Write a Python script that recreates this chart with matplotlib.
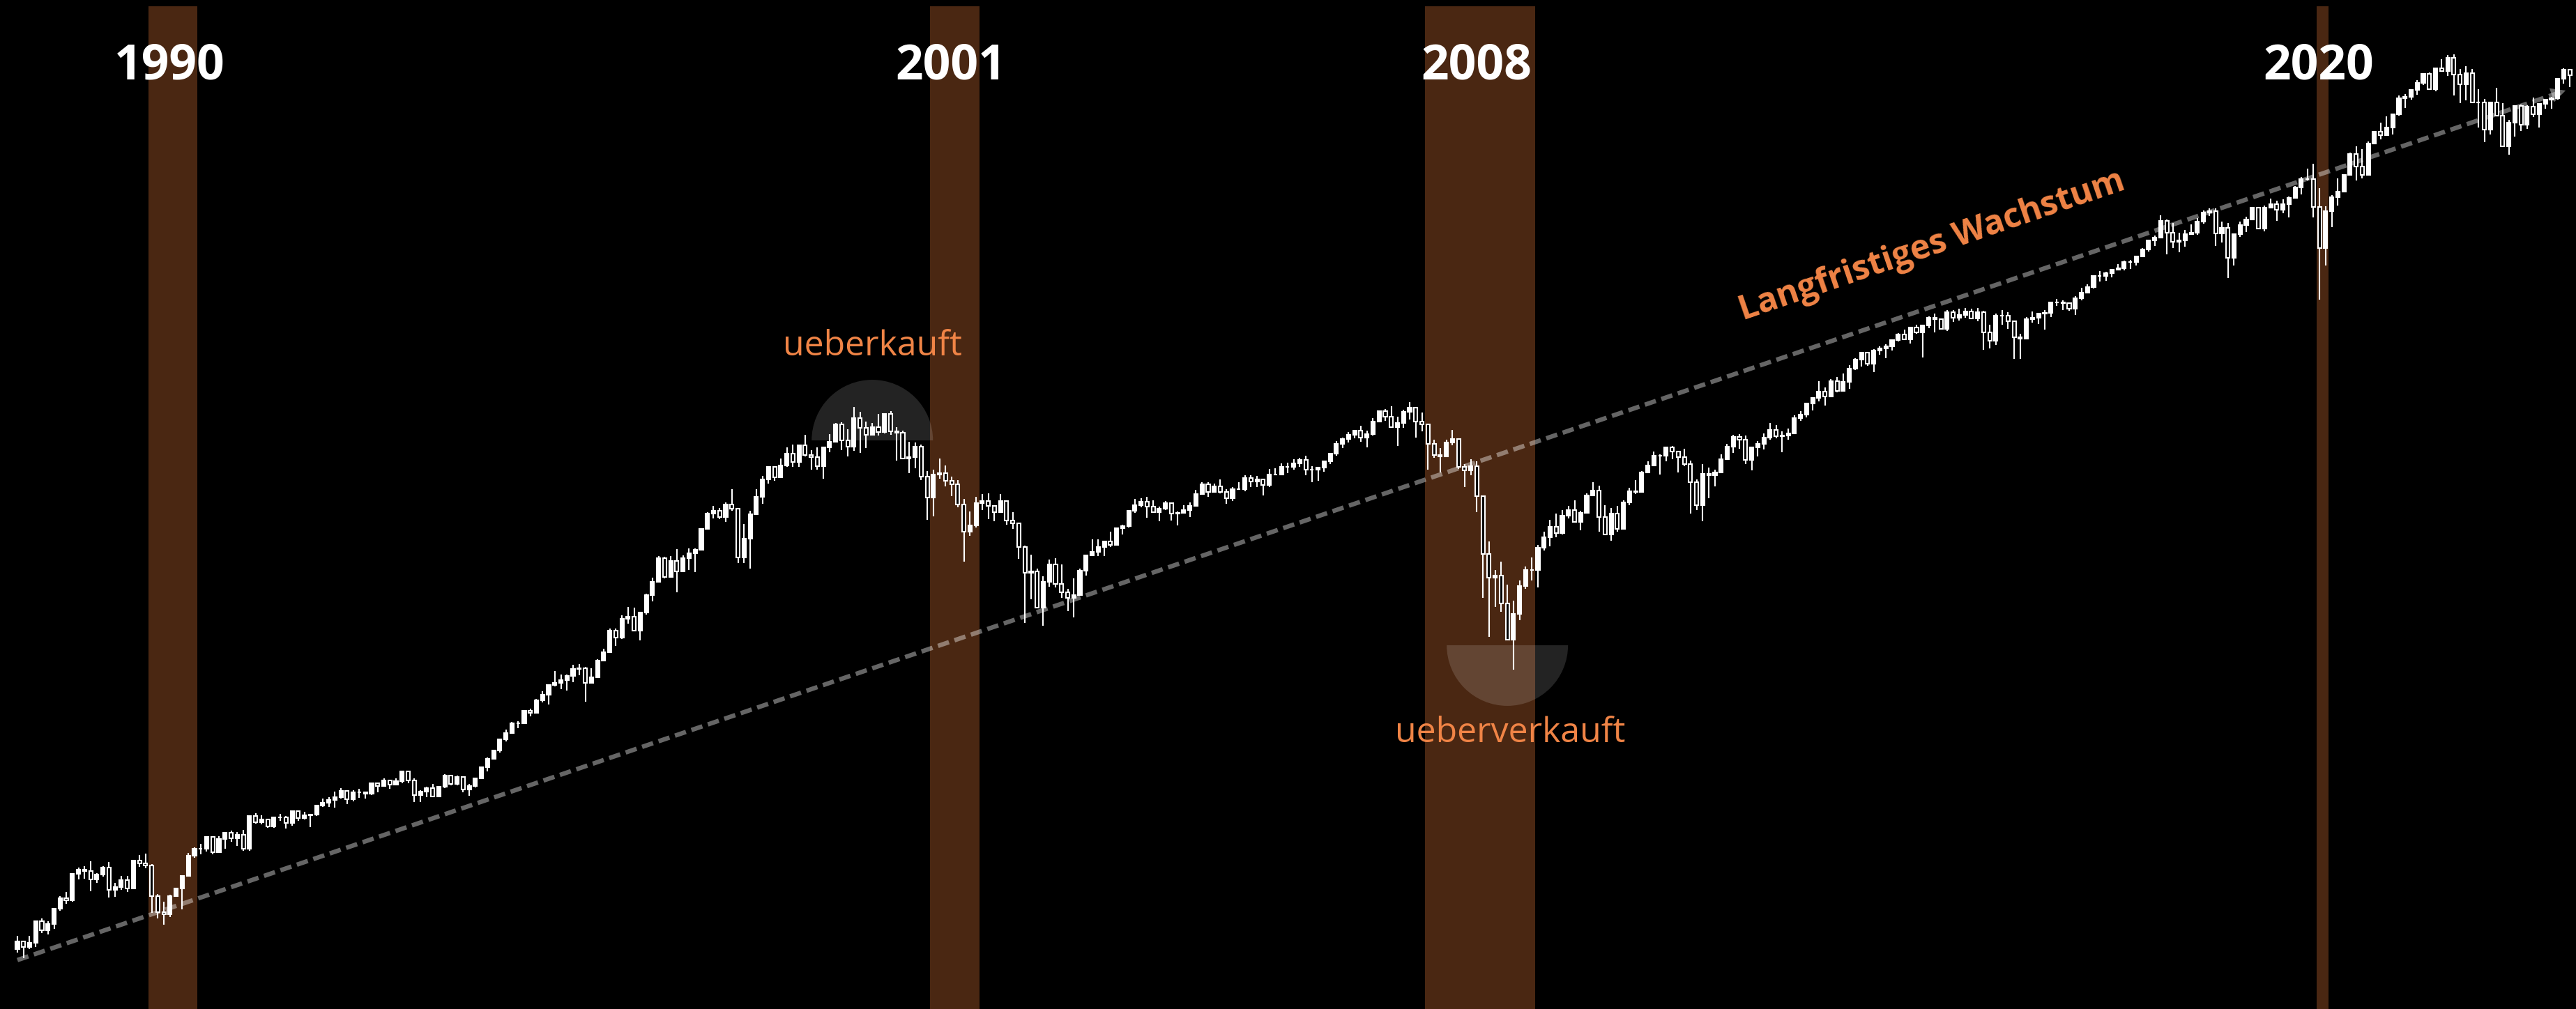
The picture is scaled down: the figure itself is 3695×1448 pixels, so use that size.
import numpy as np
import matplotlib
matplotlib.use('Agg')
import matplotlib.pyplot as plt
from matplotlib.patches import Wedge
from matplotlib.transforms import ScaledTranslation

# monthly candles, first one is Oct 1988, open of the first = Sep 1988 close
first_month = '1988-10'
first_open = 271.9

close = [
    279.0, 273.7, 277.7,  # 1988 Oct-Dec
    297.5, 288.9, 294.9, 309.6, 320.5, 318.0, 346.1, 351.5, 349.2, 340.4, 346.0, 353.4,  # 1989
    329.1, 331.9, 339.9, 330.8, 361.2, 358.0, 356.2, 322.6, 306.1, 304.0, 322.2, 330.2,  # 1990
    343.9, 367.1, 375.2, 375.3, 389.8, 371.2, 387.8, 395.4, 387.9, 392.5, 375.2, 417.1,  # 1991
    408.8, 412.7, 403.7, 415.0, 415.4, 408.1, 424.2, 414.0, 417.8, 418.7, 431.4, 435.7,  # 1992
    438.8, 443.4, 451.7, 440.2, 450.2, 450.5, 448.1, 463.6, 458.9, 467.8, 461.8, 466.5,  # 1993
    481.6, 467.1, 445.8, 450.9, 456.5, 444.3, 458.3, 475.5, 462.7, 472.4, 453.7, 459.3,  # 1994
    470.4, 487.4, 500.7, 514.7, 533.4, 544.8, 562.1, 561.9, 584.4, 581.5, 605.4, 615.9,  # 1995
    636.0, 640.4, 645.5, 654.2, 669.1, 670.6, 640.0, 652.0, 687.3, 705.3, 757.0, 740.7,  # 1996
    786.2, 790.8, 757.1, 801.3, 848.3, 885.1, 954.3, 899.5, 947.3, 914.6, 955.4, 970.4,  # 1997
    980.3, 1049.3, 1101.8, 1111.8, 1090.8, 1133.8, 1120.7, 957.3, 1017.0, 1098.7, 1163.6, 1229.2,  # 1998
    1279.6, 1238.3, 1286.4, 1335.2, 1301.8, 1372.7, 1328.7, 1320.4, 1282.7, 1362.9, 1388.9, 1469.3,  # 1999
    1394.5, 1366.4, 1498.6, 1452.4, 1420.6, 1454.6, 1430.8, 1517.7, 1436.5, 1429.4, 1315.0, 1320.3,  # 2000
    1366.0, 1239.9, 1160.3, 1249.5, 1255.8, 1224.4, 1211.2, 1133.6, 1040.9, 1059.8, 1139.5, 1148.1,  # 2001
    1130.2, 1106.7, 1147.4, 1076.9, 1067.1, 989.8, 911.6, 916.1, 815.3, 885.8, 936.3, 879.8,  # 2002
    855.7, 841.2, 848.2, 916.9, 963.6, 974.5, 990.3, 1008.0, 996.0, 1050.7, 1058.2, 1111.9,  # 2003
    1131.1, 1144.9, 1126.2, 1107.3, 1120.7, 1140.8, 1101.7, 1104.2, 1114.6, 1130.2, 1173.8, 1211.9,  # 2004
    1181.3, 1203.6, 1180.6, 1156.9, 1191.5, 1191.3, 1234.2, 1220.3, 1228.8, 1207.0, 1249.5, 1248.3,  # 2005
    1280.1, 1280.7, 1294.8, 1310.6, 1270.1, 1270.2, 1276.7, 1303.8, 1335.9, 1377.9, 1400.6, 1418.3,  # 2006
    1438.2, 1406.8, 1420.9, 1482.4, 1530.6, 1503.4, 1455.3, 1474.0, 1526.8, 1549.4, 1481.1, 1468.4,  # 2007
    1378.6, 1330.6, 1322.7, 1385.6, 1400.4, 1280.0, 1267.4, 1282.8, 1166.4, 968.8, 896.2, 903.3,  # 2008
    825.9, 735.1, 797.9, 872.8, 919.1, 919.3, 987.5, 1020.6, 1057.1, 1036.2, 1095.6, 1115.1,  # 2009
    1073.9, 1104.5, 1169.4, 1186.7, 1089.4, 1030.7, 1101.6, 1049.3, 1141.2, 1183.3, 1180.6, 1257.6,  # 2010
    1286.1, 1327.2, 1325.8, 1363.6, 1345.2, 1320.6, 1292.3, 1218.9, 1131.4, 1253.3, 1247.0, 1257.6,  # 2011
    1312.4, 1365.7, 1408.5, 1397.9, 1310.3, 1362.2, 1379.3, 1406.6, 1440.7, 1412.2, 1416.2, 1426.2,  # 2012
    1498.1, 1514.7, 1569.2, 1597.6, 1630.7, 1606.3, 1685.7, 1633.0, 1681.6, 1756.5, 1805.8, 1848.4,  # 2013
    1782.6, 1859.5, 1872.3, 1884.0, 1923.6, 1960.2, 1930.7, 2003.4, 1972.3, 2018.1, 2067.6, 2058.9,  # 2014
    1995.0, 2104.5, 2067.9, 2085.5, 2107.4, 2063.1, 2103.8, 1972.2, 1920.0, 2079.4, 2080.4, 2043.9,  # 2015
    1940.2, 1932.2, 2059.7, 2065.3, 2097.0, 2098.9, 2173.6, 2171.0, 2168.3, 2126.2, 2198.8, 2238.8,  # 2016
    2278.9, 2363.6, 2362.7, 2384.2, 2411.8, 2423.4, 2470.3, 2471.7, 2519.4, 2575.3, 2647.6, 2673.6,  # 2017
    2823.8, 2713.8, 2640.9, 2648.1, 2705.3, 2718.4, 2816.3, 2901.5, 2914.0, 2711.7, 2760.2, 2506.9,  # 2018
    2704.1, 2784.5, 2834.4, 2945.8, 2752.1, 2941.8, 2980.4, 2926.5, 2976.7, 3037.6, 3141.0, 3230.8,  # 2019
    3225.5, 2954.2, 2584.6, 2912.4, 3044.3, 3100.3, 3271.1, 3500.3, 3363.0, 3270.0, 3621.6, 3756.1,  # 2020
    3714.2, 3811.2, 3972.9, 4181.2, 4204.1, 4297.5, 4395.3, 4522.7, 4307.5, 4605.4, 4567.0, 4766.2,  # 2021
    4515.6, 4373.9, 4530.4, 4131.9, 4132.2, 3785.4, 4130.3, 3955.0, 3585.6, 3872.0, 4080.1, 3839.5,  # 2022
    4076.6, 3970.2, 4109.3, 4169.5, 4179.8, 4450.4, 4589.0, 4507.7,  # 2023 Jan-Aug
]

high = [
    283.7, 279.6, 283.8,
    297.9, 300.2, 297.4, 310.5, 322.6, 327.0, 346.8, 353.7, 355.0, 360.4, 347.5, 355.3,
    359.7, 336.5, 344.4, 344.3, 362.6, 368.0, 369.8, 357.2, 324.4, 316.5, 324.0, 330.8,
    344.5, 370.5, 376.8, 381.8, 391.1, 390.3, 391.1, 396.0, 397.6, 396.2, 399.3, 418.3,
    420.8, 418.4, 413.4, 416.3, 420.0, 417.5, 425.1, 425.1, 422.4, 419.1, 431.6, 441.3,
    442.7, 450.8, 456.7, 452.4, 453.5, 454.8, 450.2, 463.6, 463.7, 470.4, 469.0, 471.0,
    482.9, 482.2, 471.1, 453.3, 458.0, 462.3, 459.4, 476.7, 476.0, 474.7, 473.4, 462.7,
    472.2, 489.2, 503.9, 515.2, 533.7, 551.1, 564.6, 566.2, 586.8, 589.0, 608.2, 622.9,
    636.2, 664.2, 657.6, 656.7, 678.5, 680.3, 673.6, 670.2, 690.9, 714.1, 762.1, 761.8,
    794.7, 817.4, 814.9, 804.1, 851.9, 897.6, 961.3, 960.3, 960.8, 983.1, 963.6, 986.3,
    986.3, 1050.0, 1106.6, 1130.5, 1122.1, 1141.3, 1190.6, 1121.0, 1066.1, 1112.4, 1192.7, 1244.9,
    1280.0, 1282.8, 1316.7, 1362.8, 1375.9, 1376.1, 1420.3, 1350.1, 1362.3, 1365.0, 1422.0, 1473.1,
    1478.0, 1444.6, 1552.9, 1527.2, 1481.5, 1474.6, 1517.3, 1518.5, 1530.1, 1454.8, 1438.5, 1389.1,
    1383.4, 1376.4, 1263.5, 1269.3, 1315.9, 1286.6, 1239.8, 1226.3, 1155.4, 1110.6, 1163.4, 1173.6,
    1176.6, 1130.2, 1173.0, 1147.8, 1106.6, 1070.7, 994.5, 965.0, 924.0, 900.7, 951.6, 954.3,
    935.1, 864.6, 895.9, 924.2, 965.4, 1015.3, 1015.4, 1011.0, 1040.0, 1053.8, 1063.7, 1112.6,
    1155.4, 1159.0, 1163.2, 1150.6, 1127.7, 1146.3, 1140.8, 1108.6, 1131.5, 1142.1, 1188.5, 1217.9,
    1217.9, 1212.4, 1229.1, 1191.9, 1199.6, 1219.6, 1245.2, 1245.9, 1243.1, 1233.3, 1270.6, 1275.8,
    1294.9, 1297.6, 1310.9, 1318.2, 1326.7, 1284.3, 1280.4, 1306.7, 1340.3, 1389.5, 1407.9, 1431.8,
    1441.6, 1461.6, 1438.9, 1498.0, 1535.6, 1540.6, 1555.9, 1503.9, 1538.7, 1576.1, 1545.8, 1523.6,
    1471.8, 1396.0, 1359.7, 1397.0, 1440.2, 1404.1, 1292.2, 1313.2, 1303.0, 1167.0, 1007.5, 918.9,
    943.9, 877.9, 833.0, 888.7, 930.2, 956.2, 996.7, 1039.5, 1080.2, 1101.4, 1113.7, 1130.4,
    1150.5, 1112.4, 1174.9, 1219.8, 1205.1, 1131.2, 1121.0, 1129.2, 1148.9, 1196.1, 1227.1, 1262.6,
    1302.7, 1344.1, 1332.3, 1366.4, 1370.6, 1345.2, 1356.5, 1307.4, 1229.3, 1292.7, 1277.6, 1269.4,
    1333.5, 1378.0, 1419.2, 1422.4, 1415.3, 1363.5, 1391.7, 1426.7, 1474.5, 1464.0, 1434.3, 1448.0,
    1509.9, 1530.9, 1570.3, 1597.6, 1687.2, 1654.2, 1698.8, 1709.7, 1729.9, 1775.2, 1813.6, 1849.4,
    1850.8, 1867.9, 1884.0, 1897.3, 1924.0, 1968.2, 1991.4, 2005.0, 2019.3, 2018.2, 2075.8, 2093.6,
    2064.4, 2119.6, 2117.5, 2125.9, 2134.7, 2129.9, 2132.8, 2112.7, 2021.0, 2094.3, 2116.5, 2104.3,
    2038.2, 1963.0, 2072.2, 2111.1, 2099.1, 2120.6, 2177.1, 2193.8, 2187.9, 2169.6, 2214.1, 2277.5,
    2301.0, 2371.5, 2401.0, 2398.2, 2418.7, 2454.0, 2484.0, 2490.9, 2519.4, 2583.0, 2657.7, 2695.0,
    2872.9, 2836.0, 2801.9, 2717.5, 2742.2, 2791.5, 2848.0, 2916.5, 2940.9, 2939.9, 2815.2, 2800.2,
    2709.0, 2813.5, 2860.3, 2949.5, 2954.1, 2964.2, 3028.0, 3013.6, 3022.0, 3050.1, 3154.3, 3247.9,
    3337.8, 3393.5, 3136.7, 2954.9, 3068.7, 3233.1, 3280.0, 3514.8, 3588.1, 3549.9, 3646.0, 3760.2,
    3870.9, 3950.4, 3983.9, 4218.8, 4238.0, 4302.4, 4430.0, 4537.4, 4545.9, 4608.1, 4743.8, 4808.9,
    4818.6, 4595.3, 4637.3, 4593.5, 4307.7, 4177.5, 4140.2, 4325.3, 4119.3, 3905.4, 4080.1, 4101.0,
    4094.2, 4195.4, 4110.8, 4170.1, 4206.2, 4458.5, 4607.1, 4584.6,
]

low = [
    269.1, 264.1, 271.8,
    273.8, 286.3, 285.2, 290.0, 307.6, 314.9, 317.0, 340.2, 341.3, 327.9, 336.5, 343.5,
    321.4, 322.1, 328.7, 326.7, 330.7, 354.4, 352.5, 305.8, 300.4, 294.5, 301.6, 322.2,
    309.4, 343.9, 364.7, 369.1, 371.8, 368.6, 371.1, 375.6, 383.6, 379.0, 373.3, 373.0,
    406.7, 406.2, 401.7, 401.2, 410.9, 401.0, 404.1, 410.8, 412.8, 402.7, 417.6, 429.9,
    429.4, 428.5, 441.4, 433.5, 436.9, 441.9, 440.8, 446.0, 450.3, 458.0, 455.7, 460.9,
    463.8, 463.3, 436.2, 435.9, 442.7, 442.8, 444.0, 456.5, 460.8, 460.0, 449.9, 445.0,
    457.2, 469.6, 481.5, 500.0, 511.8, 530.6, 544.7, 553.5, 561.7, 574.0, 581.2, 600.9,
    597.3, 632.8, 627.6, 624.6, 641.5, 655.2, 601.8, 638.7, 649.3, 686.9, 703.8, 720.0,
    737.0, 773.4, 755.4, 733.5, 797.3, 830.6, 885.1, 894.0, 899.5, 855.3, 914.6, 920.0,
    912.8, 980.3, 1046.0, 1085.0, 1082.0, 1074.0, 1112.4, 939.2, 939.9, 923.3, 1098.7, 1136.9,
    1212.2, 1225.2, 1244.3, 1280.9, 1281.4, 1281.4, 1325.6, 1268.4, 1268.0, 1233.7, 1341.8, 1387.4,
    1350.1, 1325.1, 1346.6, 1339.4, 1361.1, 1420.6, 1416.9, 1426.6, 1419.4, 1305.8, 1311.2, 1254.1,
    1274.6, 1228.2, 1081.2, 1091.9, 1232.0, 1203.0, 1165.5, 1124.9, 944.8, 1026.8, 1054.3, 1114.3,
    1081.7, 1074.4, 1106.7, 1063.5, 1048.9, 952.9, 775.7, 837.7, 815.3, 768.6, 872.1, 869.5,
    840.3, 806.3, 788.9, 847.9, 902.8, 963.1, 962.1, 960.8, 990.4, 995.0, 1031.2, 1053.4,
    1105.1, 1124.4, 1087.2, 1107.2, 1076.3, 1113.3, 1078.8, 1060.7, 1101.3, 1090.2, 1127.6, 1173.8,
    1163.8, 1180.9, 1176.9, 1136.2, 1146.2, 1188.3, 1183.6, 1201.1, 1201.1, 1168.2, 1201.1, 1246.6,
    1245.7, 1253.6, 1268.0, 1280.7, 1245.3, 1219.3, 1224.5, 1261.3, 1290.9, 1327.1, 1361.0, 1385.9,
    1404.0, 1389.1, 1364.0, 1416.4, 1476.7, 1484.2, 1454.3, 1370.6, 1451.6, 1489.6, 1406.1, 1435.7,
    1270.1, 1316.8, 1257.0, 1324.4, 1373.1, 1272.0, 1200.4, 1247.5, 1106.4, 839.8, 741.0, 815.7,
    804.3, 734.5, 666.8, 783.3, 866.1, 888.9, 869.3, 978.5, 992.0, 1020.2, 1029.4, 1085.9,
    1071.6, 1044.5, 1101.4, 1170.7, 1040.8, 1028.3, 1010.9, 1039.7, 1049.3, 1131.9, 1173.0, 1180.6,
    1257.6, 1289.1, 1249.1, 1302.6, 1311.8, 1258.1, 1282.9, 1101.5, 1114.2, 1074.8, 1158.7, 1202.4,
    1258.9, 1312.4, 1340.0, 1357.4, 1292.0, 1266.7, 1325.4, 1354.7, 1396.6, 1403.3, 1343.4, 1398.1,
    1426.2, 1485.0, 1501.5, 1536.0, 1581.3, 1560.3, 1604.6, 1627.5, 1633.4, 1646.5, 1746.2, 1768.0,
    1770.5, 1737.9, 1834.4, 1814.4, 1859.8, 1916.0, 1930.7, 1904.8, 1964.0, 1820.7, 2001.0, 1972.6,
    1988.1, 1980.9, 2039.7, 2048.4, 2067.9, 2056.3, 2044.0, 1867.0, 1871.9, 1893.7, 2019.4, 1993.3,
    1812.3, 1810.1, 1937.1, 2033.8, 2025.9, 1991.7, 2074.0, 2147.6, 2119.1, 2114.7, 2083.8, 2187.4,
    2245.1, 2271.7, 2322.3, 2329.0, 2352.7, 2405.7, 2407.7, 2417.4, 2446.6, 2520.4, 2557.5, 2605.5,
    2682.4, 2532.7, 2585.9, 2553.8, 2594.6, 2698.7, 2699.0, 2796.3, 2864.1, 2603.5, 2631.1, 2346.6,
    2444.0, 2681.8, 2722.3, 2848.6, 2750.5, 2728.8, 2952.2, 2822.1, 2891.9, 2856.0, 3050.7, 3070.3,
    3214.6, 2855.8, 2191.9, 2447.5, 2766.6, 2965.7, 3101.2, 3284.5, 3209.5, 3233.9, 3279.7, 3633.4,
    3662.7, 3725.6, 3723.3, 3955.5, 4056.9, 4164.4, 4233.1, 4367.7, 4305.9, 4278.9, 4560.0, 4495.1,
    4222.6, 4114.7, 4157.9, 4124.3, 3810.3, 3636.9, 3721.6, 3954.5, 3584.1, 3491.6, 3698.2, 3764.5,
    3794.3, 3943.1, 3808.9, 4049.4, 4047.8, 4166.2, 4385.1, 4335.3,
]

# shaded crisis periods (first and last month) and their labels
recessions = [('1990-07', '1991-03'), ('2001-03', '2001-11'),
              ('2007-12', '2009-06'), ('2020-02', '2020-04')]
year_labels = ['1990', '2001', '2008', '2020']

# long term growth line, start and end point
trend = [('1988-10', 262.6), ('2023-07', 4281.0)]

ORANGE = '#F08446'
BAND = '#4A2712'

plt.rcParams['font.family'] = ['Open Sans', 'DejaVu Sans']


def month(s):
    y, m = s.split('-')
    return (int(y) - 1988) * 12 + int(m) - 1


fig = plt.figure(figsize=(36.95, 14.48), dpi=100, facecolor='black')
ax = fig.add_axes([0, 0, 1, 1], facecolor='black')
ax.set_yscale('log')
ax.set_xlim(6.15, 428.0)
ax.set_ylim(224.4, 5737)
ax.axis('off')

# candles
c = np.array(close)
o = np.array([first_open] + close[:-1])
hi = np.maximum(np.array(high), np.maximum(o, c))
lo = np.minimum(np.array(low), np.minimum(o, c))
x = np.arange(len(c)) + month(first_month)
up = c >= o
ax.vlines(x, lo, hi, colors='white', linewidth=1.5, zorder=3)
ax.bar(x, np.abs(c - o), bottom=np.minimum(o, c), width=0.58,
       color=np.where(up, 'white', 'black'), edgecolor='white', linewidth=1.5, zorder=4)

# crisis bands + year labels
for (a, b), lab in zip(recessions, year_labels):
    ax.axvspan(month(a) + 0.5, month(b) + 0.5, ymin=0, ymax=1 - 9 / 1448,
               color=BAND, lw=0, zorder=1)
    xc = (month(a) + month(b)) / 2 + 0.5 - 0.6
    ax.text(xc, 1 - 114 / 1448, lab, transform=ax.get_xaxis_transform(),
            ha='center', va='baseline', color='white', fontsize=50, fontweight='bold', zorder=6)

# trend line with small arrow head
tx = [month(trend[0][0]), month(trend[1][0])]
ty = [trend[0][1], trend[1][1]]
ax.plot(tx, ty, color='white', alpha=0.4, lw=4.6, dashes=(2.6, 1.3),
        dash_capstyle='butt', zorder=2)
k = 2.0 / (tx[1] - tx[0])
ax.annotate('', xy=(tx[1] + 0.6, ty[1] * (ty[1] / ty[0]) ** (0.6 / (tx[1] - tx[0]))),
            xytext=(tx[1] - 2.0, ty[1] * (ty[0] / ty[1]) ** k),
            arrowprops=dict(arrowstyle='-|>,head_length=0.5,head_width=0.25', color='white',
                            alpha=0.4, lw=0, mutation_scale=30), zorder=2)
ax.text(322.5, 2600, 'Langfristiges Wachstum', rotation=18.9, rotation_mode='anchor',
        ha='center', va='center', color=ORANGE, fontsize=35, fontweight='bold', zorder=6)


# over-/under-bought half circles
def half_disk(mon, val, lower):
    tr = fig.dpi_scale_trans + ScaledTranslation(month(mon), val, ax.transData)
    t1, t2 = (180, 360) if lower else (0, 180)
    ax.add_patch(Wedge((0, 0), 0.87, t1, t2, transform=tr, facecolor='white',
                       alpha=0.14, lw=0, zorder=2))


half_disk('2000-06', 1394, False)
half_disk('2009-02', 722, True)
ax.text(month('2000-06'), 1832, 'ueberkauft', ha='center', va='baseline',
        color=ORANGE, fontsize=36, fontweight='normal', zorder=6)
ax.text(253.5, 529, 'ueberverkauft', ha='center', va='baseline',
        color=ORANGE, fontsize=36, fontweight='normal', zorder=6)

fig.savefig('out.png', dpi=100, facecolor='black')
